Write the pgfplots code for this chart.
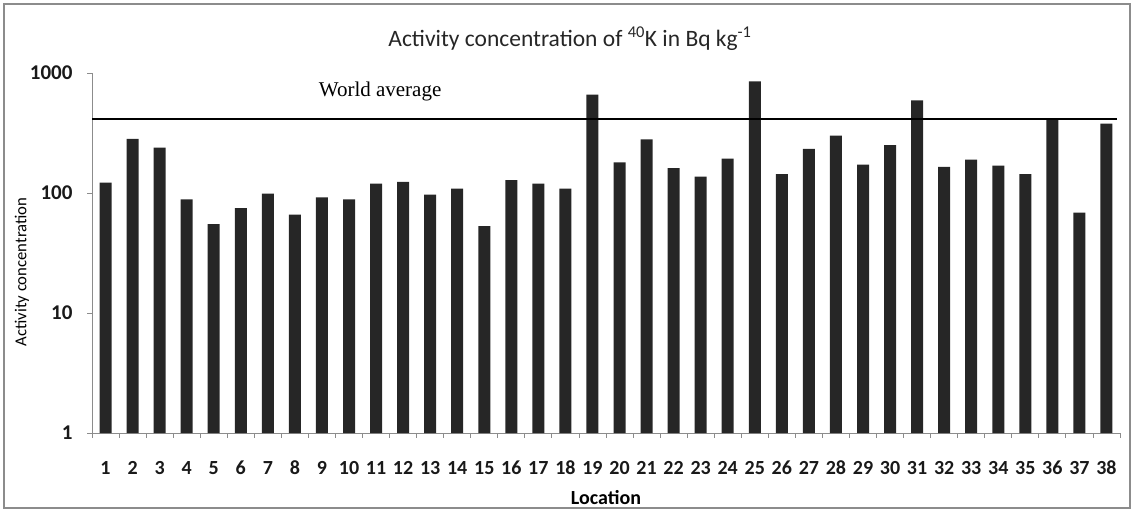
\documentclass[border=0pt]{standalone}
\usepackage{pgfplots}
\pgfplotsset{compat=1.18}
\usepackage{fontspec}
\setmainfont{Carlito}
\newfontfamily\timesfont{Liberation Serif}
\definecolor{barcol}{HTML}{262626}
\definecolor{axgray}{HTML}{8C8C8C}
\begin{document}
\begin{tikzpicture}[x=1pt,y=1pt]
\useasboundingbox (0,0) rectangle (1134,512);
\draw[axgray, line width=2pt] (4,4) rectangle (1130,508);
\begin{axis}[
  at={(92pt,79pt)}, anchor=south west,
  scale only axis, width=1028pt, height=360pt,
  ymode=log, ymin=1, ymax=1000, log origin=infty,
  xmin=0.5, xmax=38.5,
  axis x line*=bottom, axis y line*=left,
  axis line style={axgray, line width=0.8pt},
  ytick={1,10,100,1000}, yticklabels={1,10,100,1000},
  minor ytick={}, yminorticks=false,
  xtick={1,...,38},
  xticklabels={1,2,3,4,5,6,7,8,9,10,11,12,13,14,15,16,17,18,19,20,21,22,23,24,25,26,27,28,29,30,31,32,33,34,35,36,37,38},
  minor xtick={0.5,1.5,...,38.5},
  major x tick style={draw=none},
  tick align=outside,
  major tick length=5pt, minor tick length=5pt,
  tick style={axgray, line width=0.8pt},
  xticklabel style={font=\bfseries\fontsize{20}{23}\selectfont, text=black!90, text height=13pt, text depth=0pt, yshift=-20pt},
  yticklabel style={font=\bfseries\fontsize{21}{24}\selectfont, text=black!90, text height=13.5pt, text depth=0pt, xshift=-11pt},
  clip=false,
]
\addplot[ybar, bar width=12pt, fill=barcol, draw=none] coordinates {
(1,122) (2,282) (3,239) (4,88.6) (5,55) (6,75) (7,99) (8,66) (9,92) (10,88.6)
(11,120) (12,124) (13,97) (14,109) (15,53) (16,128) (17,120) (18,109) (19,659) (20,180)
(21,280) (22,161) (23,137) (24,193) (25,853) (26,144) (27,233) (28,300) (29,172) (30,250)
(31,592) (32,165) (33,190) (34,169) (35,144) (36,411) (37,68.5) (38,378)
};
\addplot[black, line width=2pt] coordinates {(0.5,412) (38.4,412)};
\node[font=\timesfont\fontsize{21}{24}\selectfont] at (axis cs:11.15,708) {World average};
\end{axis}
\node[font=\fontsize{23.5}{26}\selectfont, text=black!85] at (570,473) {Activity concentration of \textsuperscript{40}K in Bq kg\textsuperscript{-1}};
\node[rotate=90, font=\fontsize{16.7}{19}\selectfont] at (22,240) {Activity concentration};
\node[font=\bfseries\fontsize{20}{23}\selectfont] at (606,14) {Location};
\end{tikzpicture}
\end{document}
